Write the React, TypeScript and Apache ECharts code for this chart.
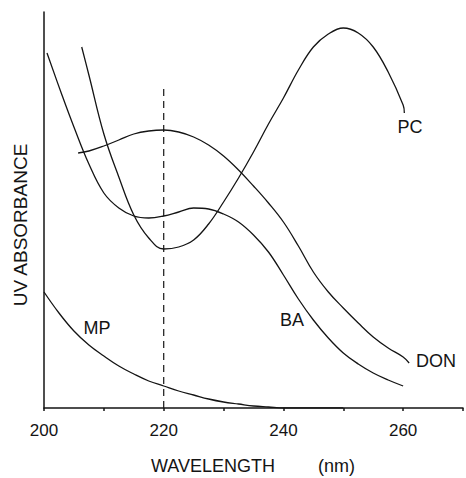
import React, { useEffect, useRef } from "react";
import * as echarts from "echarts";

// Wavelength (nm) and UV absorbance (arbitrary units, 0 = baseline)
const baNm = [200.5, 203, 205, 207.5, 210, 212.5, 215, 217.5, 220, 222.5, 225, 227.5, 230, 232.5, 235, 237.5, 240, 242.5, 245, 247.5, 250, 252.5, 255, 257.5, 260];
const baAbs = [355, 313, 281, 244, 215, 200, 192, 190, 192, 196, 200, 199, 194, 186, 173, 156, 133, 109, 88, 70, 55, 44, 35, 28, 22];

const pcNm = [206.3, 207.5, 210, 212.5, 215, 217.5, 220, 222.5, 225, 227.5, 230, 232.5, 235, 237.5, 240, 242.5, 245, 247.5, 250, 252.5, 255, 257.5, 260, 260.2];
const pcAbs = [361, 333, 274, 231, 193, 170, 159, 161, 168, 184, 206, 230, 256, 284, 310, 338, 361, 374, 380, 375, 361, 336, 303, 295];

const donNm = [205.7, 207.5, 210, 212.5, 215, 217.5, 220, 222.5, 225, 227.5, 230, 232.5, 235, 237.5, 240, 242.5, 245, 247.5, 250, 252.5, 255, 257.5, 260, 261];
const donAbs = [255, 257, 262, 268, 274, 277, 278, 276, 271, 263, 252, 238, 222, 205, 186, 162, 136, 116, 100, 85, 71, 60, 51, 45];

const mpNm = [200, 202.5, 205, 207.5, 210, 212.5, 215, 217.5, 220, 222.5, 225, 227.5, 230, 232.5, 235, 237.5, 240, 245, 250];
const mpAbs = [116, 95, 77, 63, 52, 42, 34, 27, 22, 17, 13, 9, 6, 4, 2, 1, 0, 0, 0];

const refNm = [220, 220];
const refAbs = [0, 321];

const xTickLabels = [200, 220, 240, 260];

const zip = (xs: number[], ys: number[]) => xs.map((x, i) => [x, ys[i]]);

export default function App() {
  const ref = useRef<HTMLDivElement>(null);
  useEffect(() => {
    if (!ref.current) return;
    const chart = echarts.init(ref.current, undefined, { renderer: "svg" });
    const ink = "#141414";
    const font = "'Liberation Sans', Arial, sans-serif";
    const curve = (name: string, xs: number[], ys: number[]) => ({
      name,
      type: "line",
      data: zip(xs, ys),
      smooth: 0.4,
      showSymbol: false,
      symbol: "none",
      lineStyle: { color: ink, width: 1.3 },
      z: 3,
    });
    chart.setOption({
      animation: false,
      backgroundColor: "#ffffff",
      grid: { left: 44, top: 12, width: 420, height: 396 },
      xAxis: {
        type: "value",
        min: 200,
        max: 270,
        interval: 10,
        axisLine: { show: true, onZero: false, lineStyle: { color: ink, width: 1.5 } },
        axisTick: { show: true, length: 3, inside: false, lineStyle: { color: ink, width: 1.5 } },
        splitLine: { show: false },
        axisLabel: {
          margin: 14,
          color: ink,
          fontFamily: font,
          fontSize: 17,
          formatter: (v: number) => (xTickLabels.includes(v) ? String(v) : ""),
        },
      },
      yAxis: {
        type: "value",
        min: 0,
        max: 396,
        axisLine: { show: true, lineStyle: { color: ink, width: 1.5 } },
        axisTick: { show: false },
        axisLabel: { show: false },
        splitLine: { show: false },
      },
      series: [
        curve("BA", baNm, baAbs),
        curve("PC", pcNm, pcAbs),
        curve("DON", donNm, donAbs),
        curve("MP", mpNm, mpAbs),
        {
          name: "220 nm",
          type: "line",
          data: zip(refNm, refAbs),
          showSymbol: false,
          symbol: "none",
          lineStyle: { color: ink, width: 1.2, type: [7, 5] },
          z: 2,
        },
      ],
      graphic: [
        { type: "text", left: 151, top: 457, style: { text: "WAVELENGTH", fill: ink, font: `18px ${font}` } },
        { type: "text", left: 318, top: 457, style: { text: "(nm)", fill: ink, font: `18px ${font}` } },
        {
          type: "text",
          x: 20,
          y: 225,
          rotation: Math.PI / 2,
          style: { text: "UV ABSORBANCE", fill: ink, font: `19px ${font}`, align: "center", verticalAlign: "middle" },
        },
        { type: "text", x: 410, y: 127, style: { text: "PC", fill: ink, font: `18px ${font}`, align: "center", verticalAlign: "middle" } },
        { type: "text", x: 292, y: 320, style: { text: "BA", fill: ink, font: `18px ${font}`, align: "center", verticalAlign: "middle" } },
        { type: "text", x: 436, y: 361, style: { text: "DON", fill: ink, font: `18px ${font}`, align: "center", verticalAlign: "middle" } },
        { type: "text", x: 97, y: 328, style: { text: "MP", fill: ink, font: `18px ${font}`, align: "center", verticalAlign: "middle" } },
      ],
    });
    return () => chart.dispose();
  }, []);
  return <div ref={ref} style={{ position: "fixed", left: 0, top: 0, width: 466, height: 478 }} />;
}
